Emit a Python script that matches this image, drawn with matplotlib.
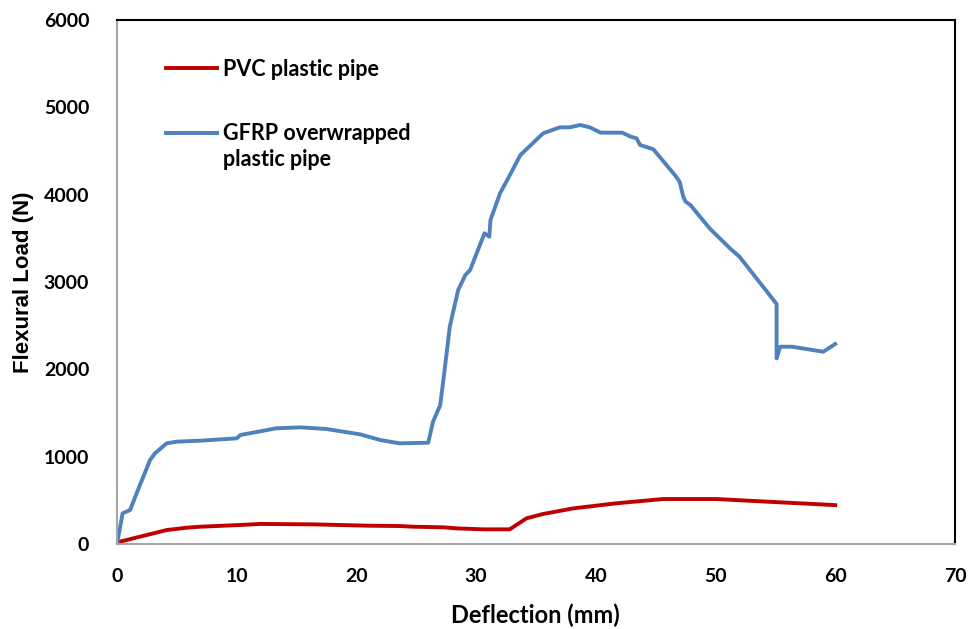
import matplotlib.pyplot as plt
from matplotlib.legend_handler import HandlerLine2D

# PVC plastic pipe: deflection (mm) vs load (N)
pvc_x = [0, 0.25, 0.81, 1.36, 1.92, 3.59, 4.15, 5.82, 6.93, 10.3, 12.0, 16.4, 20.9,
         23.6, 24.8, 27.3, 28.4, 30.6, 32.8, 33.5, 34.2, 35.6, 38.1, 41.7, 45.6,
         50.1, 54.3, 59.8, 60.0]
pvc_y = [0, 27, 46, 65, 84, 141, 160, 187, 198, 218, 230, 225, 210,
         206, 198, 191, 179, 168, 168, 230, 294, 344, 408, 466, 515,
         515, 485, 447, 445]

# GFRP overwrapped plastic pipe
gfrp_x = [0, 0.47, 1.09, 1.64, 2.76, 3.17, 4.15, 4.99, 6.93, 10.0, 10.3, 13.3, 15.3,
          17.5, 20.3, 22.0, 23.6, 26.0, 26.4, 27.0, 27.3, 27.8, 28.5, 29.1, 29.5,
          30.7, 31.1, 31.2, 32.0, 32.6, 33.7, 35.6, 37.0, 37.8, 38.7, 39.5, 40.4,
          42.2, 42.9, 43.4, 43.7, 44.8, 45.9, 46.6, 47.0, 47.3, 47.5, 47.9, 49.5,
          51.2, 52.0, 53.2, 54.3, 55.1, 55.1, 55.4, 56.4, 59.0, 60.0]
gfrp_y = [0, 351, 389, 580, 962, 1038, 1153, 1172, 1183, 1210, 1248, 1325, 1336,
          1317, 1256, 1191, 1153, 1160, 1400, 1590, 1916, 2488, 2908, 3080, 3138,
          3558, 3519, 3710, 4016, 4168, 4454, 4703, 4771, 4771, 4798, 4771, 4710,
          4710, 4665, 4645, 4569, 4520, 4340, 4225, 4149, 3978, 3920, 3882, 3615,
          3386, 3290, 3080, 2889, 2748, 2126, 2259, 2259, 2202, 2290]

plt.rcParams['font.family'] = ['Lato', 'DejaVu Sans']
plt.rcParams['font.weight'] = 'bold'


# legend handle placed level with the first line of a two-line label
class FirstLineHandler(HandlerLine2D):
    def create_artists(self, legend, orig_handle, xdescent, ydescent, width,
                       height, fontsize, trans):
        arts = super().create_artists(legend, orig_handle, xdescent, ydescent,
                                      width, height, fontsize, trans)
        for a in arts:
            a.set_ydata([y + fontsize * 0.68 for y in a.get_ydata()])
        return arts


fig = plt.figure(figsize=(9.7, 6.29), dpi=100)
ax = fig.add_axes([0.1206, 0.1351, 0.8639, 0.8331])

ax.plot(pvc_x, pvc_y, color='#C00000', lw=2.8, label='PVC plastic pipe')
gl, = ax.plot(gfrp_x, gfrp_y, color='#4F81BD', lw=2.8,
              label='GFRP overwrapped\nplastic pipe')

ax.set_xlim(0, 70)
ax.set_ylim(0, 6000)
ax.set_xticks(range(0, 71, 10))
ax.set_yticks(range(0, 6001, 1000))
ax.tick_params(axis='x', length=0, pad=17, labelsize=14)
ax.tick_params(axis='y', length=0, pad=20, labelsize=14)
for lbl in ax.get_xticklabels() + ax.get_yticklabels():
    lbl.set_fontweight('bold')

ax.set_xlabel('Deflection (mm)', fontsize=17, fontweight='bold')
ax.set_ylabel('Flexural Load (N)', fontsize=16, fontweight='bold',
              family='Liberation Sans')
ax.xaxis.set_label_coords(0.499, -0.113)
ax.yaxis.set_label_coords(-0.099, 0.5)

for side in ['left', 'bottom']:
    ax.spines[side].set_color('#A6A6A6')
    ax.spines[side].set_linewidth(1.5)
for side in ['top', 'right']:
    ax.spines[side].set_color('black')
    ax.spines[side].set_linewidth(1.5)

leg = ax.legend(loc='upper left', bbox_to_anchor=(0.035, 0.963), frameon=False,
                handlelength=2.4, handletextpad=0.25, labelspacing=2.0,
                prop={'weight': 'bold', 'size': 15.5},
                handler_map={gl: FirstLineHandler()})
leg.get_texts()[1].set_linespacing(1.3)

fig.savefig('out.png', dpi=100)
